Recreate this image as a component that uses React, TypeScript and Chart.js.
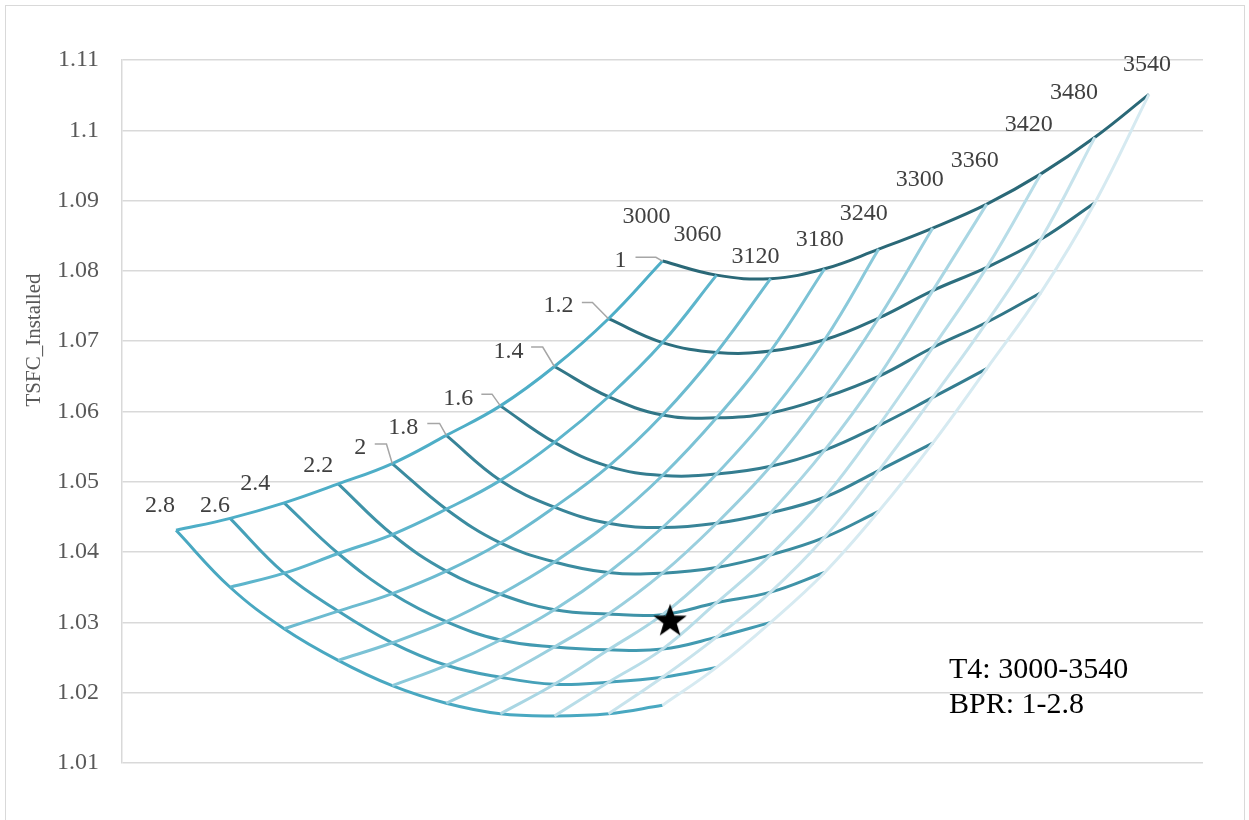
import React, { useEffect, useRef } from "react";
import { Chart, registerables } from "chart.js";

Chart.register(...registerables);

// ---------- DATA ----------
const T4_VALUES = [3000, 3060, 3120, 3180, 3240, 3300, 3360, 3420, 3480, 3540];
const T4_LABELS = ["3000", "3060", "3120", "3180", "3240", "3300", "3360", "3420", "3480", "3540"];
const BPR_VALUES = [1, 1.2, 1.4, 1.6, 1.8, 2, 2.2, 2.4, 2.6, 2.8];
const BPR_LABELS = ["1", "1.2", "1.4", "1.6", "1.8", "2", "2.2", "2.4", "2.6", "2.8"];

// TSFC_Installed for each BPR, indexed by T4 (3000 ... 3540)
const TSFC_BPR_1_0 = [1.0814, 1.0794, 1.0789, 1.0803, 1.0831, 1.0861, 1.0895, 1.0938, 1.099, 1.1051];
const TSFC_BPR_1_2 = [1.0732, 1.0698, 1.0684, 1.0686, 1.0702, 1.0733, 1.0772, 1.0805, 1.0845, 1.0897];
const TSFC_BPR_1_4 = [1.0664, 1.0621, 1.0595, 1.0591, 1.0598, 1.062, 1.065, 1.0691, 1.0727, 1.0769];
const TSFC_BPR_1_6 = [1.0608, 1.0556, 1.0522, 1.0509, 1.0511, 1.0522, 1.0545, 1.058, 1.062, 1.0661];
const TSFC_BPR_1_8 = [1.0566, 1.0502, 1.0464, 1.0441, 1.0435, 1.0441, 1.0456, 1.0478, 1.0516, 1.0555];
const TSFC_BPR_2_0 = [1.0526, 1.0461, 1.0413, 1.0386, 1.0371, 1.037, 1.0378, 1.0396, 1.0421, 1.0458];
const TSFC_BPR_2_2 = [1.0497, 1.0425, 1.0373, 1.034, 1.0318, 1.0312, 1.0311, 1.0328, 1.0343, 1.0371];
const TSFC_BPR_2_4 = [1.047, 1.0398, 1.0341, 1.0301, 1.0275, 1.0265, 1.0261, 1.0262, 1.0279, 1.03];
const TSFC_BPR_2_6 = [1.0448, 1.037, 1.0316, 1.0271, 1.0239, 1.0222, 1.0212, 1.0215, 1.0222, 1.0236];
const TSFC_BPR_2_8 = [1.0431, 1.035, 1.0291, 1.0246, 1.021, 1.0185, 1.017, 1.0167, 1.017, 1.0182];

const TSFC_BY_BPR = [
  TSFC_BPR_1_0, TSFC_BPR_1_2, TSFC_BPR_1_4, TSFC_BPR_1_6, TSFC_BPR_1_8,
  TSFC_BPR_2_0, TSFC_BPR_2_2, TSFC_BPR_2_4, TSFC_BPR_2_6, TSFC_BPR_2_8,
];

// design point (star), in carpet coordinates
const STAR_POINT = { x: 0.14, y: 1.0303 };

const Y_TICKS = [1.01, 1.02, 1.03, 1.04, 1.05, 1.06, 1.07, 1.08, 1.09, 1.1, 1.11];
const Y_TICK_LABELS = ["1.01", "1.02", "1.03", "1.04", "1.05", "1.06", "1.07", "1.08", "1.09", "1.1", "1.11"];

const Y_TITLE = "TSFC_Installed";
const NOTE_LINES = ["T4: 3000-3540", "BPR: 1-2.8"];

// ---------- STYLE ----------
const BPR_COLORS = ["#2a6877", "#2d6f7f", "#317687", "#347d90", "#388498", "#3b8ca0", "#3f93a8", "#429ab1", "#46a1b9", "#49a8c1"];
const T4_COLORS = ["#4eaec7", "#5db5cc", "#6cbbd0", "#7bc2d5", "#8ac9da", "#9acfde", "#a9d6e3", "#b8dde8", "#c7e3ec", "#d6eaf1"];

// label offsets (px) relative to the labelled point: text centre
const T4_LABEL_OFFSETS = [[-16, -46], [-19, -42], [-15, -24], [-5, -31], [-15, -37], [-13, -50], [-12, -45], [-12, -51], [-21, -46], [-2, -31]];
const BPR_LABEL_OFFSETS = [[-42, -2], [-50, -15], [-46, -17], [-42, -9], [-43, -9], [-32, -18], [-20, -20], [-29, -21], [-15, -14], [-16, -26]];
const BPR_LEADERS: (number[][] | null)[] = [
  [[-27, -3.7], [-6.6, -3.7]],
  [[-26.6, -16.3], [-16, -16.3]],
  [[-23.3, -19.4], [-11.7, -19.4]],
  [[-19, -11.7], [-8.3, -11.7]],
  [[-19, -12], [-6.7, -12]],
  [[-17.5, -19.6], [-5.8, -19.6]],
  null, null, null, null,
];

const SERIF = "'Liberation Serif', 'Times New Roman', serif";

function makeStar(): HTMLCanvasElement {
  const c = document.createElement("canvas");
  c.width = 38;
  c.height = 38;
  const g = c.getContext("2d")!;
  const cx = 19, cy = 20, R = 17.5, r = 7;
  g.beginPath();
  for (let k = 0; k < 10; k++) {
    const rad = k % 2 === 0 ? R : r;
    const a = -Math.PI / 2 + (k * Math.PI) / 5;
    const px = cx + rad * Math.cos(a);
    const py = cy + rad * Math.sin(a);
    if (k === 0) g.moveTo(px, py);
    else g.lineTo(px, py);
  }
  g.closePath();
  g.fillStyle = "#000";
  g.fill();
  return c;
}

const annotatePlugin = {
  id: "annotate",
  afterDatasetsDraw(chart: any) {
    const { ctx } = chart;
    const xs = chart.scales.x;
    const ys = chart.scales.y;
    ctx.save();
    ctx.font = `24px ${SERIF}`;
    ctx.fillStyle = "#404040";
    ctx.textAlign = "center";
    ctx.textBaseline = "alphabetic";
    // T4 labels along BPR = 1
    T4_VALUES.forEach((_, i) => {
      const px = xs.getPixelForValue(i);
      const py = ys.getPixelForValue(TSFC_BY_BPR[0][i]);
      const [ox, oy] = T4_LABEL_OFFSETS[i];
      ctx.fillText(T4_LABELS[i], px + ox, py + oy + 8);
    });
    // BPR labels along T4 = 3000
    BPR_VALUES.forEach((_, j) => {
      const px = xs.getPixelForValue(-j);
      const py = ys.getPixelForValue(TSFC_BY_BPR[j][0]);
      const lead = BPR_LEADERS[j];
      if (lead) {
        ctx.save();
        ctx.strokeStyle = "#a6a6a6";
        ctx.lineWidth = 1.5;
        ctx.beginPath();
        ctx.moveTo(px + lead[0][0], py + lead[0][1]);
        ctx.lineTo(px + lead[1][0], py + lead[1][1]);
        ctx.lineTo(px, py);
        ctx.stroke();
        ctx.restore();
      }
      const [ox, oy] = BPR_LABEL_OFFSETS[j];
      ctx.fillText(BPR_LABELS[j], px + ox, py + oy + 8);
    });
    ctx.restore();
  },
  afterDraw(chart: any) {
    const { ctx } = chart;
    ctx.save();
    // axis title
    ctx.translate(34, 340);
    ctx.rotate(-Math.PI / 2);
    ctx.font = `21px ${SERIF}`;
    ctx.fillStyle = "#595959";
    ctx.textAlign = "center";
    ctx.textBaseline = "middle";
    ctx.fillText(Y_TITLE, 0, 0);
    ctx.restore();
    // note text box
    ctx.save();
    ctx.font = `30px ${SERIF}`;
    ctx.fillStyle = "#000";
    ctx.textAlign = "left";
    ctx.textBaseline = "alphabetic";
    NOTE_LINES.forEach((t, k) => ctx.fillText(t, 949, 678 + k * 35));
    ctx.restore();
  },
};

export default function App() {
  const canvasRef = useRef<HTMLCanvasElement | null>(null);

  useEffect(() => {
    if (!canvasRef.current) return;
    const star = makeStar();

    const bprSets = BPR_VALUES.map((b, j) => ({
      label: `BPR ${BPR_LABELS[j]}`,
      data: T4_VALUES.map((_, i) => ({ x: i - j, y: TSFC_BY_BPR[j][i] })),
      borderColor: BPR_COLORS[j],
      backgroundColor: BPR_COLORS[j],
      borderWidth: 3,
      showLine: true,
      pointRadius: 0,
      tension: 0.4,
      order: 2,
    }));
    const t4Sets = T4_VALUES.map((t, i) => ({
      label: `T4 ${T4_LABELS[i]}`,
      data: BPR_VALUES.map((_, j) => ({ x: i - j, y: TSFC_BY_BPR[j][i] })),
      borderColor: T4_COLORS[i],
      backgroundColor: T4_COLORS[i],
      borderWidth: 3,
      showLine: true,
      pointRadius: 0,
      tension: 0.4,
      order: 1,
    }));
    const starSet = {
      label: "Design point",
      data: [STAR_POINT],
      showLine: false,
      pointStyle: star,
      pointRadius: 10,
      borderColor: "#000",
      backgroundColor: "#000",
      order: 0,
    };

    const chart = new Chart(canvasRef.current, {
      type: "scatter",
      data: { datasets: [...bprSets, ...t4Sets, starSet] as any },
      options: {
        responsive: false,
        animation: false,
        devicePixelRatio: 1,
        layout: { padding: { left: 0, top: 60, right: 46, bottom: 57 } },
        plugins: { legend: { display: false }, tooltip: { enabled: false } },
        scales: {
          x: { type: "linear", min: -10, max: 10, display: false },
          y: {
            type: "linear",
            min: 1.01,
            max: 1.11,
            afterBuildTicks: (s: any) => {
              s.ticks = Y_TICKS.map((v) => ({ value: v }));
            },
            afterFit: (s: any) => {
              s.width = 122;
            },
            ticks: {
              padding: 23,
              color: "#595959",
              font: { family: SERIF, size: 24 },
              callback: (v: any) => {
                const idx = Y_TICKS.findIndex((t) => Math.abs(t - Number(v)) < 1e-6);
                return idx >= 0 ? Y_TICK_LABELS[idx] : "";
              },
            },
            grid: { color: "#d9d9d9", lineWidth: 1.5, drawTicks: false },
            border: { display: true, color: "#d9d9d9", width: 1.5 },
          },
        },
      },
      plugins: [annotatePlugin],
    });
    return () => chart.destroy();
  }, []);

  return (
    <div style={{ position: "absolute", left: 0, top: 0, width: 1249, height: 820, background: "#fff", overflow: "hidden" }}>
      <div
        style={{
          position: "absolute",
          left: 5,
          top: 5,
          width: 1240,
          height: 840,
          border: "1px solid #d9d9d9",
          boxSizing: "border-box",
        }}
      />
      <canvas ref={canvasRef} width={1249} height={820} style={{ position: "absolute", left: 0, top: 0 }} />
    </div>
  );
}
